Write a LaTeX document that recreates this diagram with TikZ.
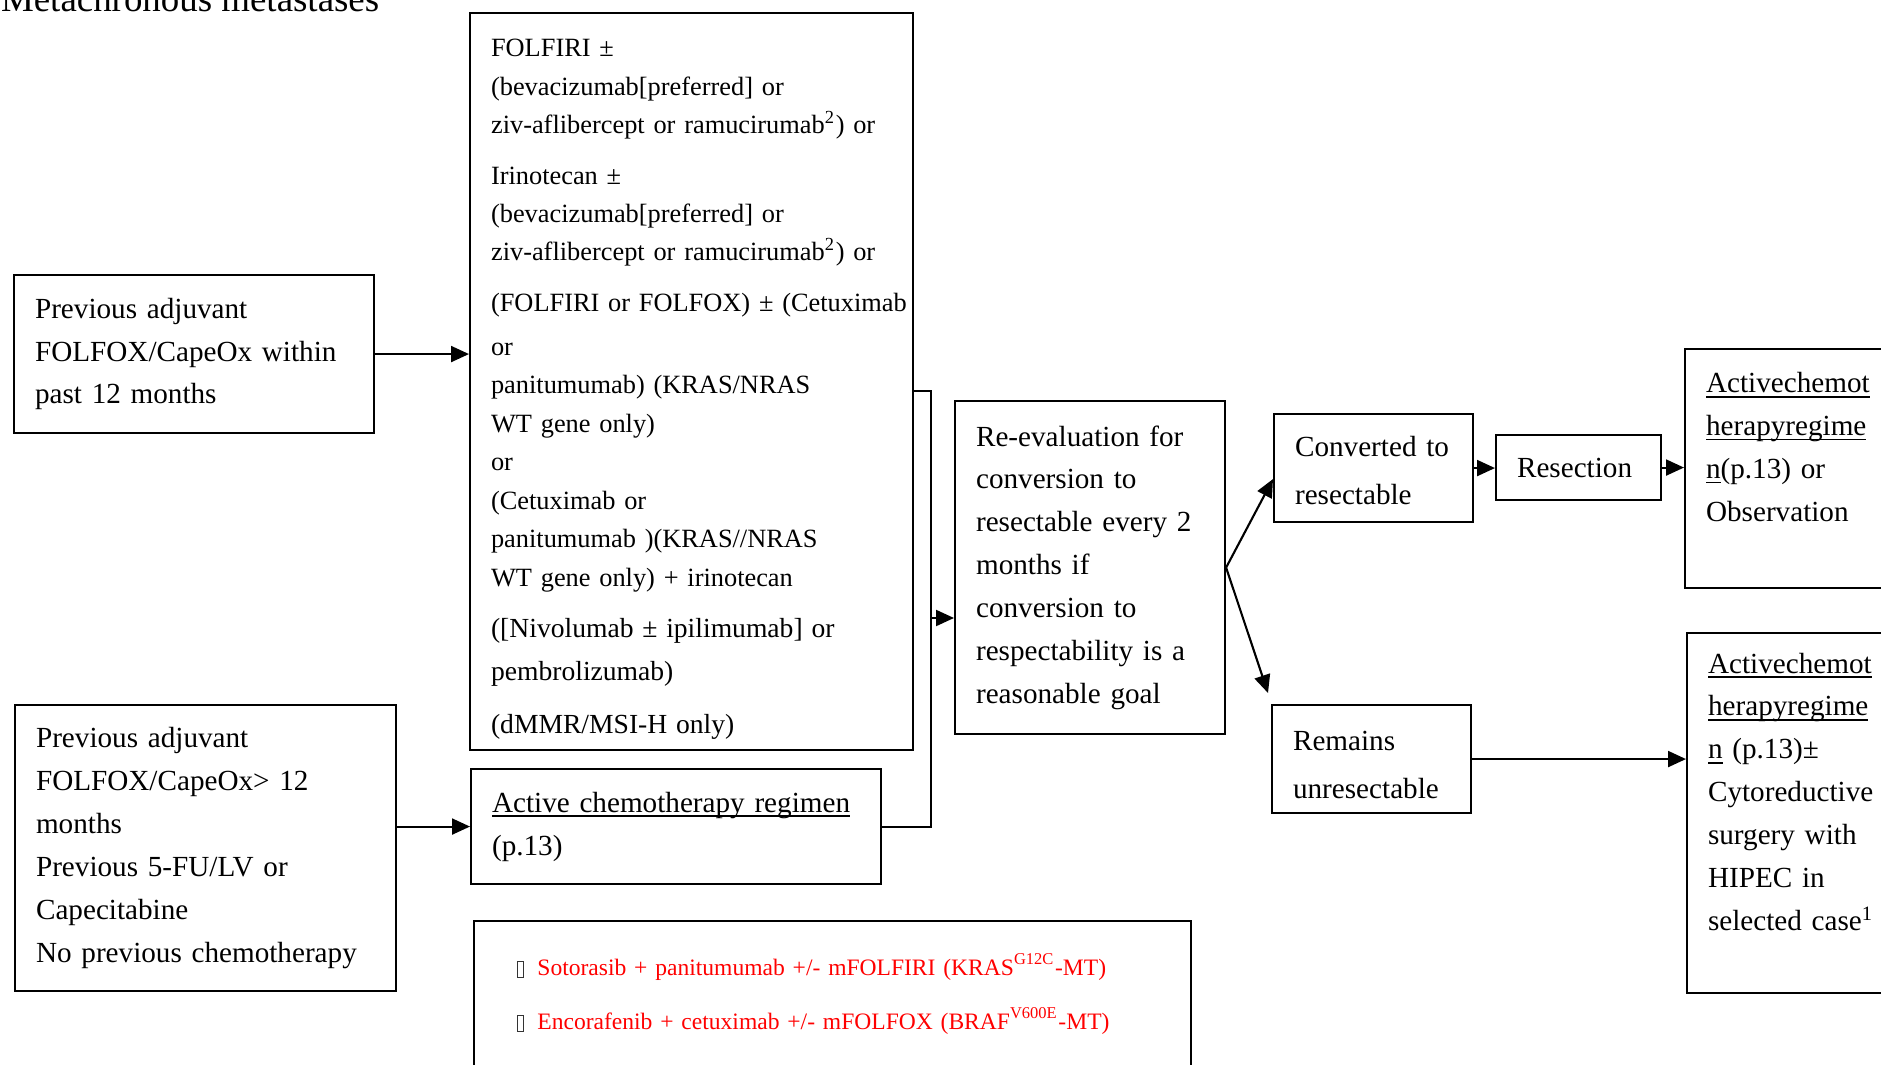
\documentclass[tikz,border=0pt]{standalone}
\usepackage{fontspec}
\setmainfont{Liberation Serif}
\usepackage{tikz}
\usetikzlibrary{arrows.meta,calc}

\definecolor{noteRed}{RGB}{255,0,0}
\newcommand{\tofubox}{{\color{black!80}\setlength{\fboxsep}{0pt}\setlength{\fboxrule}{0.25pt}%
  \raisebox{-0.6pt}{\fbox{\rule{0pt}{4.4pt}\hspace{1.5pt}}}}\hspace{3.8pt}}
\newcommand{\wordul}[1]{\leavevmode\setbox0=\hbox{#1}\rlap{\rule[-0.16em]{\wd0}{0.055em}}\box0\relax}

\begin{document}
\begin{tikzpicture}[->,>={Triangle[length=1.8mm,width=1.6mm]},line width=0.6pt,
  box/.style={draw,rectangle,anchor=north west,align=left,inner xsep=0.21cm,
    inner ysep=1pt,font=\fontsize{8.3}{12.2}\selectfont}]

\useasboundingbox (0,0) rectangle (18.81,10.64);

\node[anchor=base west,inner sep=0,font=\fontsize{10.5}{12}\selectfont] (title)
  at (0,10.52) {Metachronous metastases};

% left column
\node[box,text width=3.18cm,minimum height=1.58cm] (b_adj) at (0.13,7.90)
  {Previous adjuvant\\ FOLFOX/CapeOx within\\ past 12 months};
\node[box,text width=3.39cm,minimum height=2.86cm] (b_prev) at (0.14,3.60)
  {Previous adjuvant\\ FOLFOX/CapeOx> 12\\ months\\ Previous 5-FU/LV or\\
   Capecitabine\\ No previous chemotherapy};

% regimens
\node[box,text width=4.01cm,minimum height=7.37cm,font=\fontsize{7.5}{10.95}\selectfont]
  (b_reg) at (4.69,10.52)
  {\rule{0pt}{0.33cm}FOLFIRI ±\\
   (bevacizumab[preferred] or\\
   \mbox{ziv-aflibercept or ramucirumab\textsuperscript{2}) or}\\[3.3pt]
   Irinotecan ±\\
   (bevacizumab[preferred] or\\
   \mbox{ziv-aflibercept or ramucirumab\textsuperscript{2}) or}\\[3.3pt]
   \mbox{(FOLFIRI or FOLFOX) ± (Cetuximab}\\[1.6pt]
   or\\
   panitumumab) (KRAS/NRAS\\
   WT gene only)\\
   or\\
   (Cetuximab or\\
   panitumumab )(KRAS//NRAS\\
   WT gene only) + irinotecan\\[3.6pt]
   {\fontsize{7.85}{10.95}\selectfont\mbox{([Nivolumab ± ipilimumab] or}}\\[1.3pt]
   {\fontsize{7.85}{10.95}\selectfont pembrolizumab)}\\[4.1pt]
   {\fontsize{7.85}{10.95}\selectfont (dMMR/MSI-H only)}};
\node[box,text width=3.68cm,minimum height=1.15cm] (b_act) at (4.70,2.96)
  {\wordul{Active chemotherapy regimen}\\ (p.13)};
\node[box,text width=6.31cm,minimum height=1.46cm,inner xsep=0.43cm,
  font=\fontsize{6.7}{15.4}\selectfont,text=noteRed] (b_new) at (4.73,1.44)
  {\tofubox Sotorasib + panitumumab +/- mFOLFIRI (KRAS\textsuperscript{G12C}-MT)\\
   \tofubox Encorafenib + cetuximab +/- mFOLFOX (BRAF\textsuperscript{V600E}-MT)};

% re-evaluation and outcomes
\node[box,text width=2.28cm,minimum height=3.33cm] (b_eval) at (9.54,6.64)
  {Re-evaluation for\\ conversion to\\ resectable every 2\\ months if\\
   conversion to\\ respectability is a\\ reasonable goal};
\node[box,text width=1.57cm,minimum height=1.08cm,font=\fontsize{8.3}{13.7}\selectfont]
  (b_conv) at (12.73,6.51) {\rule{0pt}{0.25cm}Converted to\\ resectable};
\node[box,text width=1.23cm,minimum height=0.65cm] (b_res) at (14.95,6.30) {Resection};
\node[box,text width=1.57cm,minimum height=1.08cm,font=\fontsize{8.3}{13.7}\selectfont]
  (b_unres) at (12.71,3.60) {\rule{0pt}{0.31cm}Remains\\ unresectable};
\node[box,text width=1.88cm,minimum height=2.39cm] (b_obs) at (16.84,7.16)
  {\wordul{Activechemot}\\ \wordul{herapyregime}\\ \wordul{n}(p.13) or\\
   Observation\\ \mbox{}};
\node[box,text width=1.88cm,minimum height=3.60cm] (b_cyto) at (16.86,4.32)
  {\wordul{Activechemot}\\ \wordul{herapyregime}\\ \wordul{n} (p.13)±\\
   Cytoreductive\\ surgery with\\ HIPEC in\\ selected case\textsuperscript{1}\\ \mbox{}};

% connectors
\coordinate (j_top) at (9.31,6.73);
\coordinate (j_mid) at (9.31,4.46);

\path (b_adj.east) edge (b_adj.east -| b_reg.west)
  (b_act.west -| b_prev.east) edge (b_act.west);
\draw[-] (b_reg.east |- j_top) -- (j_top) -- (j_top |- b_act.east) -- (b_act.east);
\path (j_mid) edge (j_mid -| b_eval.west);
\path (b_eval.east) edge ($(b_conv.west)+(0,-0.11)$)
  (b_eval.east) edge ($(b_unres.north west)+(-0.03,0.11)$);
\path (b_conv.east) edge (b_conv.east -| b_res.west)
  (b_res.east) edge (b_res.east -| b_obs.west)
  (b_unres.east) edge (b_unres.east -| b_cyto.west);

\end{tikzpicture}
\end{document}
